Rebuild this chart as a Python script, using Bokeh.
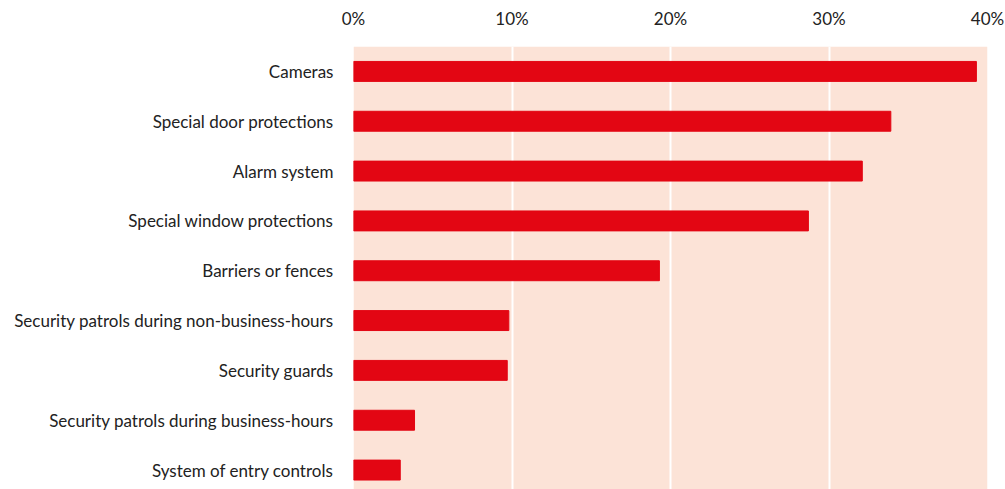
from bokeh.plotting import figure
from bokeh.models import Range1d, FixedTicker, PrintfTickFormatter, BoxAnnotation
from bokeh.embed import file_html
from bokeh.resources import INLINE

categories = [
    "Cameras",
    "Special door protections",
    "Alarm system",
    "Special window protections",
    "Barriers or fences",
    "Security patrols during non-business-hours",
    "Security guards",
    "Security patrols during business-hours",
    "System of entry controls",
]
values = [39.3, 33.9, 32.1, 28.7, 19.3, 9.8, 9.7, 3.85, 2.95]
x_ticks = [0, 10, 20, 30, 40]

ypos = list(range(len(categories)))

p = figure(frame_width=634, frame_height=443, output_backend="svg", toolbar_location=None,
           x_range=Range1d(0, 40), y_range=Range1d(8.39, -0.5),
           x_axis_location="above", min_border_left=353, min_border_right=18,
           min_border_top=46, min_border_bottom=0)

p.background_fill_color = "white"
p.border_fill_color = "white"
p.outline_line_color = None

bg = BoxAnnotation(left=x_ticks[0], right=x_ticks[-1], fill_color="#FCE3D7",
                   fill_alpha=1, line_color=None, level="image")
p.add_layout(bg)

p.hbar(y=ypos, right=values, left=0, height=0.4, color="#E30613", line_color="#E30613")

p.xgrid.ticker = FixedTicker(ticks=x_ticks[1:-1])
p.xgrid.grid_line_color = "white"
p.xgrid.grid_line_width = 2
p.ygrid.grid_line_color = None

xa = p.xaxis[0]
xa.ticker = FixedTicker(ticks=x_ticks)
xa.formatter = PrintfTickFormatter(format="%d%%")
xa.axis_line_color = None
xa.major_tick_line_color = None
xa.minor_tick_line_color = None
xa.major_label_text_font = "Lato"
xa.major_label_text_font_size = "17px"
xa.major_label_text_color = "#222222"
xa.major_label_standoff = 12

ya = p.yaxis[0]
ya.ticker = FixedTicker(ticks=ypos)
ya.major_label_overrides = {i: c for i, c in enumerate(categories)}
ya.axis_line_color = None
ya.major_tick_line_color = None
ya.minor_tick_line_color = None
ya.major_label_text_font = "Lato"
ya.major_label_text_font_size = "17px"
ya.major_label_text_color = "#222222"
ya.major_label_standoff = 14

open("out.html", "w").write(file_html(p, INLINE))
